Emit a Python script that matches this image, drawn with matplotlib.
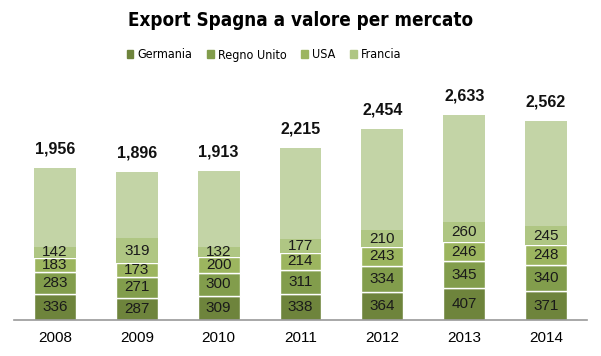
import matplotlib
matplotlib.use("Agg")
import matplotlib.pyplot as plt
import numpy as np
from matplotlib.patches import Patch
from matplotlib import font_manager as fm

years = ["2008", "2009", "2010", "2011", "2012", "2013", "2014"]
totals = [1956, 1896, 1913, 2215, 2454, 2633, 2562]
germania = [336, 287, 309, 338, 364, 407, 371]
regno_unito = [283, 271, 300, 311, 334, 345, 340]
usa = [183, 173, 200, 214, 243, 246, 248]
francia = [142, 319, 132, 177, 210, 260, 245]
altri = [t - g - r - u - f for t, g, r, u, f in zip(totals, germania, regno_unito, usa, francia)]

series = [("Germania", germania, "#6E843C", True),
          ("Regno Unito", regno_unito, "#829D4C", True),
          ("USA", usa, "#9CB55F", True),
          ("Francia", francia, "#AFC683", False)]
rest_color = "#C3D4A6"

names = {f.name for f in fm.fontManager.ttflist}
narrow = "Liberation Sans Narrow" if "Liberation Sans Narrow" in names else None
base = "Liberation Sans"

fig = plt.figure(figsize=(6.01, 3.56), dpi=100)
ax = fig.add_axes([14/601, 36/356, 573/601, 250/356])
x = np.arange(len(years))
w = 0.51
bottom = np.zeros(len(years))
for name, vals, col, edge in series:
    vals = np.array(vals, dtype=float)
    ax.bar(x, vals, w, bottom=bottom, color=col,
           edgecolor="white" if edge else col, linewidth=1.0 if edge else 0)
    for xi, b, v in zip(x, bottom, vals):
        ax.text(xi, b + v/2, f"{int(v)}", ha="center", va="center",
                fontsize=11, color="#1a1a1a", family=base)
    bottom += vals
ax.bar(x, altri, w, bottom=bottom, color=rest_color, linewidth=0)
for xi, t in zip(x, totals):
    ax.text(xi, t + 245, f"{t:,}", ha="center", va="center", fontsize=11.5,
            fontweight="bold", color="#111111", family=base)

ax.set_xlim(-0.5, len(years) - 0.5)
ax.set_ylim(0, 250/0.0778)
ax.set_yticks([])
ax.set_xticks(x)
ax.set_xticklabels(years, fontsize=11, family=base)
ax.tick_params(axis="x", length=0, pad=8)
for s in ["top", "right", "left"]:
    ax.spines[s].set_visible(False)
ax.spines["bottom"].set_color("#999999")
ax.spines["bottom"].set_linewidth(1.2)

if narrow:
    tfont = dict(family=[narrow, "DejaVu Sans"], fontsize=15)
    lfont = {"family": [narrow, "DejaVu Sans"], "size": 10}
else:
    tfont = dict(family=["DejaVu Sans"], fontsize=13.5, fontstretch="condensed")
    lfont = {"family": ["DejaVu Sans"], "size": 9, "stretch": "condensed"}
fig.text(0.5, 1 - 20/356, "Export Spagna a valore per mercato", ha="center", va="center",
         fontweight="bold", **tfont)
handles = [Patch(color=c) for _, _, c, _ in series]
fig.legend(handles, [n for n, _, _, _ in series], loc="center", ncol=4,
           bbox_to_anchor=(264/601, 1 - 55/356), frameon=False, handlelength=0.55,
           handleheight=0.55, handletextpad=0.3, columnspacing=1.2, prop=lfont)
fig.savefig("out.png", dpi=100)
